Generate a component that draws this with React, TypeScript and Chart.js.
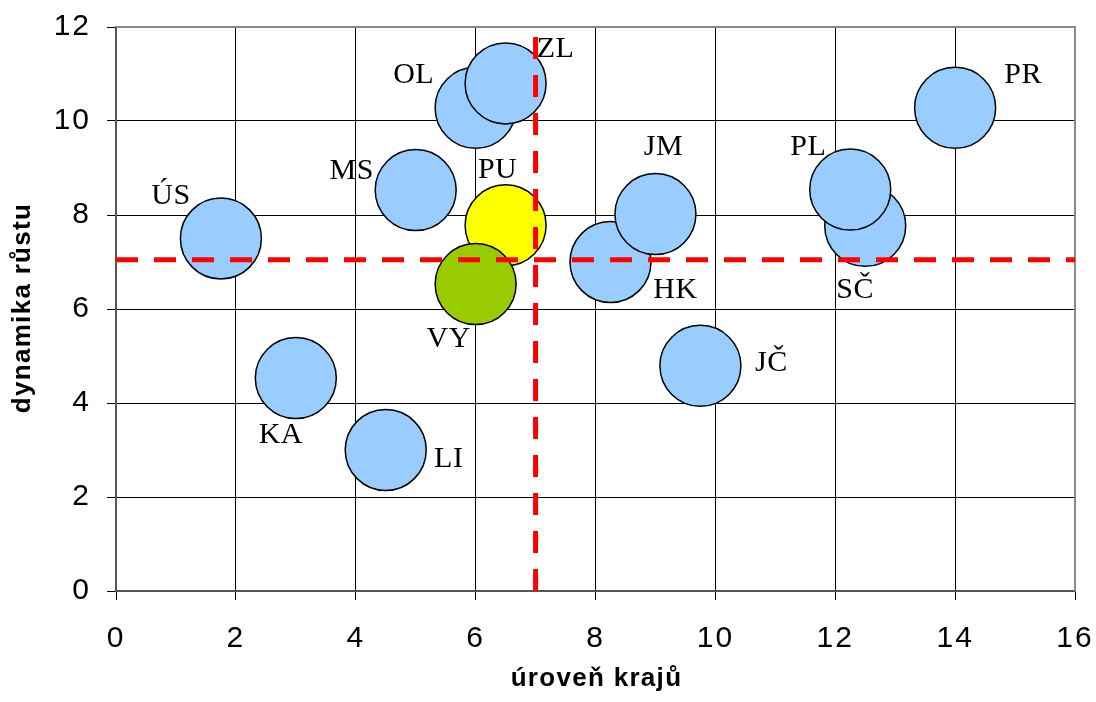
import React, { useEffect, useRef } from 'react';
import { Chart, registerables } from 'chart.js';

Chart.register(...registerables);

// Regions in drawing order (later ones overlap earlier ones)
const regions = ['ÚS', 'KA', 'LI', 'MS', 'OL', 'ZL', 'SČ', 'PL', 'PR', 'HK', 'JM', 'JČ', 'PU', 'VY'];
// úroveň krajů (x)
const levelValues = [1.75, 3.0, 4.5, 5.0, 6.0, 6.5, 12.5, 12.25, 14.0, 8.25, 9.0, 9.75, 6.5, 6.0];
// dynamika růstu (y)
const growthValues = [7.5, 4.53, 3.0, 8.53, 10.28, 10.8, 7.77, 8.54, 10.28, 7.0, 8.02, 4.79, 7.78, 6.53];

const xTicks = [0, 2, 4, 6, 8, 10, 12, 14, 16];
const yTicks = [0, 2, 4, 6, 8, 10, 12];

// Average level / average growth reference lines
const levelAverage = 7;
const growthAverage = 7.05;

const xTitle = 'úroveň krajů';
const yTitle = 'dynamika růstu';

// Styling
const BUBBLE_RADIUS = 40.5;
const DEFAULT_FILL = '#99CCFF';
const HIGHLIGHT_FILL: Record<string, string> = { PU: '#FFFF00', VY: '#99CC00' };
const SANS = '"Liberation Sans", Arial, sans-serif';
const SERIF = '"Liberation Serif", "Times New Roman", serif';

// Label placement relative to the bubble centre (px)
const LABEL_OFFSET: Record<string, [number, number]> = {
  'ÚS': [-50, -45],
  KA: [-15, 55],
  LI: [63, 7],
  MS: [-64, -21],
  OL: [-62, -35],
  ZL: [50, -36],
  'SČ': [-10, 62],
  PL: [-42, -45],
  PR: [68, -35],
  HK: [65, 26],
  JM: [8, -69],
  'JČ': [71, -5],
  PU: [-8, -57],
  VY: [-27, 53],
};

const textSpacing = {
  id: 'textSpacing',
  beforeDraw(chart: any) {
    chart.ctx.letterSpacing = '2px';
  },
};

const frame = {
  id: 'frame',
  beforeDatasetsDraw(chart: any) {
    const { ctx, chartArea: a } = chart;
    ctx.save();
    ctx.strokeStyle = '#8a8a8a';
    ctx.lineWidth = 2;
    ctx.beginPath();
    ctx.moveTo(a.left, a.top);
    ctx.lineTo(a.right, a.top);
    ctx.lineTo(a.right, a.bottom);
    ctx.stroke();
    ctx.restore();
  },
};

const bubbleLabels = {
  id: 'bubbleLabels',
  afterDraw(chart: any) {
    const { ctx } = chart;
    const xs = chart.scales.x;
    const ys = chart.scales.y;
    ctx.save();
    ctx.fillStyle = '#000';
    ctx.font = `30px ${SERIF}`;
    ctx.letterSpacing = '0.5px';
    ctx.textAlign = 'center';
    ctx.textBaseline = 'alphabetic';
    regions.forEach((name, i) => {
      const [dx, dy] = LABEL_OFFSET[name] || [0, 0];
      const px = xs.getPixelForValue(levelValues[i]) + dx;
      const py = ys.getPixelForValue(growthValues[i]) + dy;
      ctx.fillText(name, px, py + 10);
    });

    // Axis titles
    const a = chart.chartArea;
    ctx.font = `bold 26px ${SANS}`;
    ctx.letterSpacing = '1.3px';
    ctx.fillText(xTitle, (a.left + a.right) / 2 + 1, 686);
    ctx.translate(30, (a.top + a.bottom) / 2);
    ctx.rotate(-Math.PI / 2);
    ctx.fillText(yTitle, 1, 0);
    ctx.restore();
  },
};

export default function App() {
  const canvasRef = useRef<HTMLCanvasElement | null>(null);

  useEffect(() => {
    document.body.style.margin = '0';
    const canvas = canvasRef.current;
    if (!canvas) return;

    const points = regions.map((_, i) => ({ x: levelValues[i], y: growthValues[i] }));
    const fills = regions.map((r) => HIGHLIGHT_FILL[r] || DEFAULT_FILL);

    const chart = new Chart(canvas, {
      type: 'bubble',
      data: {
        datasets: [
          {
            type: 'line',
            label: 'průměrná dynamika',
            data: [
              { x: xTicks[0], y: growthAverage },
              { x: xTicks[xTicks.length - 1], y: growthAverage },
            ],
            borderColor: '#FF0000',
            borderWidth: 5,
            borderDash: [22, 16],
            pointRadius: 0,
            fill: false,
          } as any,
          {
            type: 'line',
            label: 'průměrná úroveň',
            data: [
              { x: levelAverage, y: yTicks[0] },
              { x: levelAverage, y: yTicks[yTicks.length - 1] },
            ],
            borderColor: '#FF0000',
            borderWidth: 5,
            borderDash: [22, 16],
            pointRadius: 0,
            fill: false,
          } as any,
          {
            type: 'bubble',
            label: 'kraje',
            data: points,
            backgroundColor: fills,
            borderColor: '#000',
            borderWidth: 1.5,
            radius: BUBBLE_RADIUS,
          } as any,
        ],
      },
      options: {
        responsive: false,
        animation: false,
        devicePixelRatio: 1,
        layout: { autoPadding: false, padding: { top: 27, right: 21, left: 0, bottom: 0 } },
        plugins: {
          legend: { display: false },
          tooltip: { enabled: false },
        },
        scales: {
          x: {
            type: 'linear',
            min: xTicks[0],
            max: xTicks[xTicks.length - 1],
            afterBuildTicks: (s: any) => {
              s.ticks = xTicks.map((v) => ({ value: v }));
            },
            afterFit: (s: any) => {
              s.height = 111;
              s.paddingLeft = 0;
              s.paddingRight = 0;
            },
            ticks: {
              color: '#000',
              font: { family: SANS, size: 30 },
              padding: 21,
              maxRotation: 0,
            },
            grid: { color: '#000', lineWidth: 1, tickLength: 9 },
            border: { color: '#555', width: 2 },
          },
          y: {
            type: 'linear',
            min: yTicks[0],
            max: yTicks[yTicks.length - 1],
            afterBuildTicks: (s: any) => {
              s.ticks = yTicks.map((v) => ({ value: v }));
            },
            afterFit: (s: any) => {
              s.width = 116;
              s.paddingTop = 0;
              s.paddingBottom = 0;
            },
            ticks: {
              color: '#000',
              font: { family: SANS, size: 30 },
              padding: 16,
            },
            grid: { color: '#000', lineWidth: 1, tickLength: 9 },
            border: { color: '#555', width: 2 },
          },
        },
      } as any,
      plugins: [textSpacing, frame, bubbleLabels],
    });

    return () => chart.destroy();
  }, []);

  return (
    <div style={{ width: 1096, height: 702 }}>
      <canvas ref={canvasRef} width={1096} height={702} />
    </div>
  );
}
